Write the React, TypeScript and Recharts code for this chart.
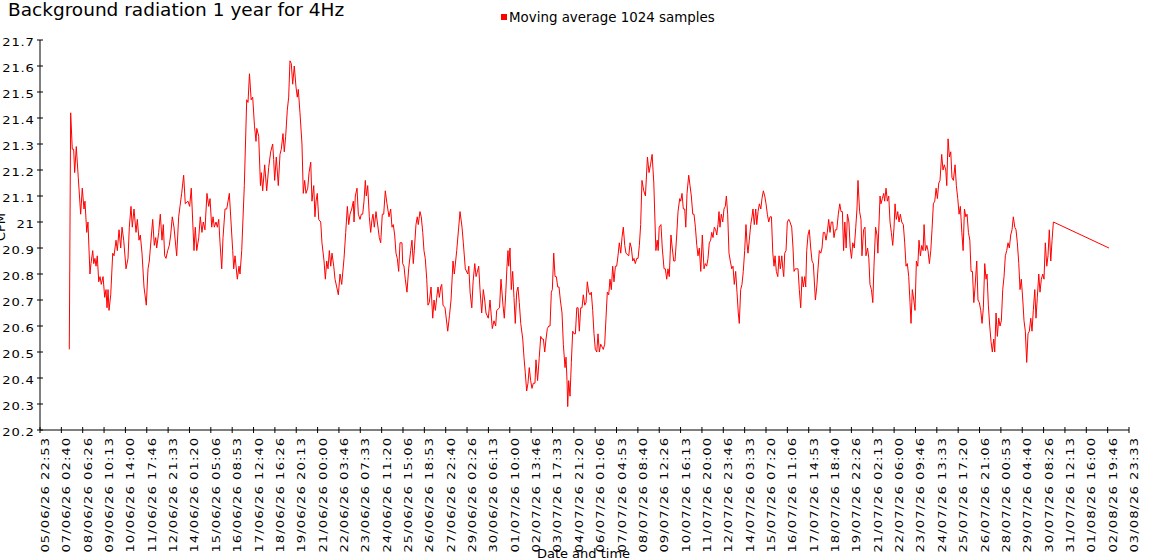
import React from "react";
import { LineChart, Line, XAxis, YAxis } from "recharts";

// Tick labels along the time axis (dd/mm/yy HH:MM), as printed in the chart
const timeTicks = [
  "05/06/26 22:53", "07/06/26 02:40", "08/06/26 06:26", "09/06/26 10:13",
  "10/06/26 14:00", "11/06/26 17:46", "12/06/26 21:33", "14/06/26 01:20",
  "15/06/26 05:06", "16/06/26 08:53", "17/06/26 12:40", "18/06/26 16:26",
  "19/06/26 20:13", "21/06/26 00:00", "22/06/26 03:46", "23/06/26 07:33",
  "24/06/26 11:20", "25/06/26 15:06", "26/06/26 18:53", "27/06/26 22:40",
  "29/06/26 02:26", "30/06/26 06:13", "01/07/26 10:00", "02/07/26 13:46",
  "03/07/26 17:33", "04/07/26 21:20", "06/07/26 01:06", "07/07/26 04:53",
  "08/07/26 08:40", "09/07/26 12:26", "10/07/26 16:13", "11/07/26 20:00",
  "12/07/26 23:46", "14/07/26 03:33", "15/07/26 07:20", "16/07/26 11:06",
  "17/07/26 14:53", "18/07/26 18:40", "19/07/26 22:26", "21/07/26 02:13",
  "22/07/26 06:00", "23/07/26 09:46", "24/07/26 13:33", "25/07/26 17:20",
  "26/07/26 21:06", "28/07/26 00:53", "29/07/26 04:40", "30/07/26 08:26",
  "31/07/26 12:13", "01/08/26 16:00", "02/08/26 19:46", "03/08/26 23:33",
];

const valueTicks = [
  20.2, 20.3, 20.4, 20.5, 20.6, 20.7, 20.8, 20.9,
  21.0, 21.1, 21.2, 21.3, 21.4, 21.5, 21.6, 21.7,
];

const seriesName = "Moving average 1024 samples";
const chartTitle = "Background radiation 1 year for 4Hz";

// [hours since 05/06/26 22:53, moving average]
const juneSamples: [number, number][] = [
  [38.1,20.51],[39.9,21.42],[42.0,21.28],[43.8,21.28],[45.1,21.19],[47.2,21.29],[49.8,21.17],[52.9,21.03],
  [55.0,21.13],[57.2,21.05],[58.5,21.08],[60.8,20.96],[62.4,21.0],[65.0,20.8],[66.3,20.84],[68.6,20.89],
  [69.9,20.84],[71.5,20.86],[72.9,20.83],[74.5,20.87],[76.4,20.77],[78.1,20.79],[79.7,20.76],[82.0,20.79],
  [84.2,20.71],[85.9,20.74],[87.2,20.67],[88.5,20.74],[89.8,20.66],[92.0,20.72],[94.6,20.88],[96.3,20.87],
  [98.9,20.93],[100.6,20.89],[102.8,20.97],[105.0,20.9],[106.7,20.98],[108.9,20.93],[111.9,20.82],[114.5,20.86],
  [116.2,20.98],[118.4,21.06],[120.1,20.98],[122.3,21.05],[124.9,20.96],[126.6,21.01],[128.8,20.93],[130.5,20.95],
  [132.7,20.88],[135.3,20.75],[138.3,20.68],[140.5,20.82],[142.2,20.85],[146.6,21.01],[148.7,20.91],[150.5,20.94],
  [151.8,20.9],[154.4,20.96],[156.5,21.03],[158.7,20.93],[160.4,20.99],[162.2,20.87],[163.9,20.86],[166.1,20.89],
  [168.2,20.91],[170.0,20.95],[172.1,21.02],[174.3,20.98],[177.8,20.87],[180.4,21.02],[182.1,21.06],[184.3,21.11],
  [186.9,21.18],[189.0,21.07],[192.5,21.08],[194.7,21.06],[196.8,21.13],[200.3,20.89],[202.0,20.98],[203.9,20.89],
  [206.5,20.94],[208.5,21.02],[210.7,20.96],[212.4,21.0],[214.6,20.97],[217.2,21.11],[219.5,21.06],[221.2,21.09],
  [223.4,20.98],[225.1,21.02],[226.8,20.98],[229.0,21.0],[230.7,20.98],[232.5,21.01],[234.2,20.92],[236.4,20.82],
  [238.1,20.94],[240.7,21.05],[242.9,21.05],[246.3,21.11],[248.5,21.0],[250.7,20.89],[252.0,20.82],[253.7,20.87],
  [256.7,20.78],[258.9,20.83],[260.2,20.8],[262.4,20.89],[265.8,21.14],[268.9,21.47],[270.6,21.46],[272.5,21.57],
  [274.7,21.47],[276.7,21.48],[279.0,21.37],[281.0,21.31],[282.0,21.36],[284.5,21.33],[286.8,21.14],[287.9,21.19],
  [289.7,21.12],[292.3,21.22],[294.9,21.12],[297.5,21.21],[300.1,21.27],[302.7,21.3],[304.0,21.24],[305.3,21.16],
  [307.4,21.25],[310.0,21.14],[312.2,21.26],[313.9,21.28],[316.1,21.34],[317.8,21.27],[319.6,21.33],[321.7,21.43],
  [323.5,21.48],[325.2,21.62],[326.9,21.61],[328.7,21.53],[330.8,21.6],[333.0,21.52],[334.7,21.48],[336.0,21.51],
  [338.2,21.42],[340.8,21.3],[342.5,21.11],[344.3,21.16],[346.0,21.11],[348.3,21.13],[350.0,21.19],[352.2,21.23],
  [353.8,21.08],[356.1,21.14],[357.7,21.02],[359.1,21.08],[360.7,21.11],[362.6,21.01],[365.2,21.0],[366.8,20.92],
  [369.5,20.85],[371.2,20.78],[373.0,20.85],[374.7,20.82],[376.4,20.89],[378.2,20.83],[379.9,20.88],[382.1,20.83],
  [383.8,20.78],[386.0,20.75],[388.1,20.72],[390.3,20.8],[392.5,20.76],[395.5,20.86],[397.7,20.96],[399.8,21.06],
  [401.6,20.99],[403.3,21.03],[405.5,21.05],[407.6,21.08],[408.5,21.0],[410.2,21.1],[412.4,21.13],[414.1,21.03],
  [416.3,21.01],[418.0,21.03],[419.8,21.03],[421.5,21.08],[423.2,21.16],[424.5,21.1],[426.3,21.14],[428.4,21.02],
  [430.2,20.96],[431.9,21.01],[433.2,21.03],[434.9,20.98],[437.1,21.04],[438.8,21.0],[441.4,20.94],[443.2,20.92],
  [445.3,21.03],[447.1,21.03],[449.2,21.12],[451.4,21.07],[454.0,21.02],[456.2,21.05],[457.9,20.98],[459.6,20.99],
  [461.4,20.95],[463.1,20.88],[464.8,20.86],[466.6,20.81],[468.3,20.92],[470.9,20.92],[471.8,20.84],[473.5,20.83],
  [475.2,20.78],[477.4,20.73],[479.6,20.82],[482.2,20.89],[483.9,20.93],[485.6,20.84],[486.9,20.89],[489.1,20.99],
  [490.8,21.02],[492.1,20.99],[494.3,21.04],[496.0,21.02],[497.9,20.96],[499.5,20.89],[501.2,20.86],[503.1,20.78],
  [504.7,20.68],[506.4,20.69],[508.7,20.75],[510.9,20.63],[512.6,20.7],[514.3,20.66],[516.1,20.71],[517.8,20.75],
  [519.5,20.71],[521.3,20.75],[522.6,20.76],[524.3,20.68],[526.9,20.67],[530.4,20.58],[532.7,20.64],[534.7,20.7],
  [537.3,20.85],[539.0,20.8],[542.1,20.89],[544.7,20.98],[546.4,21.04],[549.0,20.98],[550.7,20.92],[553.3,20.82],
  [556.5,20.8],[557.8,20.83],[559.5,20.73],[561.7,20.67],[563.4,20.77],[565.6,20.84],[567.3,20.79],[570.7,20.83],
  [572.4,20.74],[574.6,20.65],[576.7,20.74],[578.5,20.7],[580.2,20.65],[583.2,20.63],[585.4,20.7],[588.4,20.59],
  [590.6,20.62],[592.8,20.6],[594.1,20.66],[597.8,20.67],[599.7,20.78],
];

const julySamples: [number, number][] = [
  [602.3,20.68],[604.0,20.63],[605.8,20.72],[607.5,20.83],[608.8,20.89],[609.7,20.83],[611.4,20.9],[613.1,20.74],
  [614.9,20.81],[616.6,20.71],[618.3,20.61],[620.1,20.73],[621.8,20.75],[623.5,20.69],[625.4,20.61],[628.0,20.55],
  [629.6,20.48],[631.3,20.42],[633.1,20.35],[634.8,20.38],[636.5,20.44],[638.3,20.39],[640.0,20.36],[641.7,20.38],
  [643.9,20.38],[645.2,20.47],[647.3,20.39],[649.5,20.48],[651.4,20.56],[653.1,20.55],[654.8,20.55],[656.6,20.5],
  [658.3,20.55],[660.0,20.59],[661.8,20.6],[663.5,20.6],[665.2,20.73],[666.5,20.74],[668.3,20.88],[670.0,20.79],
  [671.7,20.79],[673.5,20.75],[675.2,20.75],[676.9,20.7],[679.1,20.65],[680.8,20.53],[683.0,20.44],[684.3,20.48],
  [685.6,20.39],[686.5,20.29],[687.8,20.39],[689.5,20.33],[691.2,20.46],[693.0,20.58],[694.7,20.57],[696.5,20.57],
  [698.3,20.67],[700.0,20.67],[701.6,20.58],[703.4,20.67],[705.1,20.67],[706.8,20.72],[708.6,20.68],[710.3,20.69],
  [712.0,20.77],[713.8,20.73],[715.5,20.72],[717.2,20.73],[719.0,20.66],[720.7,20.57],[722.4,20.51],[724.3,20.5],
  [725.9,20.57],[727.6,20.5],[729.4,20.53],[731.1,20.52],[732.8,20.51],[734.6,20.53],[736.3,20.63],[738.0,20.73],
  [739.8,20.72],[741.5,20.78],[743.2,20.74],[745.0,20.83],[746.7,20.77],[748.5,20.83],[750.2,20.83],[751.9,20.87],
  [753.6,20.92],[755.5,20.88],[757.1,20.94],[758.8,20.98],[760.7,20.91],[762.3,20.88],[765.9,20.87],[767.6,20.92],
  [769.3,20.9],[771.1,20.85],[772.7,20.86],[774.4,20.84],[776.3,20.86],[778.0,20.86],[779.7,20.91],[781.4,20.99],
  [783.1,21.16],[785.4,21.12],[787.6,21.1],[790.2,21.25],[792.3,21.19],[794.2,21.22],[796.3,21.26],[798.5,21.15],
  [801.2,20.89],[802.9,20.93],[804.2,20.89],[805.5,20.98],[807.8,20.99],[809.5,20.9],[811.8,20.82],[813.5,20.82],
  [815.3,20.78],[816.9,20.82],[818.6,20.79],[820.8,20.95],[822.5,20.9],[824.4,20.85],[826.1,20.85],[828.3,20.95],
  [830.0,21.04],[832.2,21.09],[833.5,21.08],[835.2,21.11],[836.9,21.05],[838.7,21.05],[840.1,20.98],[841.7,21.11],
  [843.9,21.18],[845.6,21.14],[847.3,21.1],[849.2,21.03],[850.8,21.03],[852.6,20.98],[854.4,20.91],[856.0,20.87],
  [857.7,20.9],[859.6,20.81],[861.6,20.95],[863.8,20.82],[865.5,20.84],[867.3,20.83],[869.0,20.86],[870.7,20.92],
  [872.5,20.93],[873.8,20.96],[875.5,20.94],[877.2,20.98],[879.0,20.97],[880.4,20.95],[882.0,20.99],[883.3,21.04],
  [884.6,20.98],[886.3,21.03],[888.2,21.0],[889.8,21.05],[891.5,21.06],[892.9,21.1],[894.6,21.03],[896.3,20.88],
  [898.0,20.85],[899.9,20.82],[901.5,20.83],[903.2,20.76],[905.0,20.81],[906.7,20.73],[908.4,20.65],[909.7,20.61],
  [911.5,20.74],[913.2,20.76],[914.9,20.81],[916.7,20.89],[918.4,20.99],[919.7,20.92],[921.0,20.88],[922.7,20.93],
  [924.6,20.99],[926.2,21.02],[927.5,21.05],[929.2,20.99],[931.1,21.05],[932.4,20.99],[934.1,21.04],[935.8,21.07],
  [937.7,21.05],[939.2,21.09],[941.0,21.12],[942.8,21.1],[944.5,21.07],[946.2,21.03],[948.0,21.0],[949.7,21.02],
  [951.5,21.02],[953.3,20.88],[954.9,20.83],[956.2,20.87],[957.9,20.81],[959.8,20.79],[961.4,20.87],[963.1,20.82],
  [965.0,20.87],[966.3,20.82],[967.5,20.79],[968.8,20.88],[970.5,20.89],[972.2,21.0],[974.1,21.01],[975.7,21.0],
  [977.9,20.98],[979.6,20.9],[980.9,20.81],[982.6,20.82],[984.5,20.82],[986.1,20.82],[987.8,20.74],[989.6,20.67],
  [991.3,20.79],[993.0,20.75],[994.8,20.79],[996.1,20.75],[997.4,20.89],[999.1,20.95],[1000.8,20.97],[1002.6,20.9],
  [1004.3,20.85],[1006.0,20.84],[1008.7,20.7],[1010.5,20.75],[1012.1,20.82],[1013.8,20.89],[1015.7,20.88],[1017.3,20.9],
  [1019.0,20.96],[1020.8,20.96],[1022.5,20.93],[1024.2,20.96],[1026.0,21.01],[1027.7,20.96],[1029.4,21.0],[1031.2,21.0],
  [1032.9,20.94],[1034.6,20.97],[1036.5,20.97],[1038.5,21.03],[1040.4,21.07],[1042.1,21.04],[1043.8,21.04],[1045.4,20.89],
  [1047.0,21.0],[1048.7,20.9],[1050.4,21.03],[1052.3,21.0],[1054.0,20.9],[1055.7,20.86],[1057.3,20.92],[1059.3,20.9],
  [1061.2,20.98],[1062.8,21.05],[1064.1,21.16],[1066.2,21.04],[1068.0,21.01],[1069.3,20.87],[1071.4,20.97],[1073.2,20.98],
  [1074.5,20.87],[1076.6,20.9],[1078.2,20.86],[1079.7,20.76],[1081.6,20.74],[1083.4,20.69],[1084.9,20.83],[1087.0,20.98],
  [1088.8,20.95],[1090.0,20.88],[1092.8,21.1],[1094.0,21.07],[1095.8,21.09],[1097.6,21.11],[1098.8,21.08],[1100.6,21.13],
  [1102.3,21.08],[1104.1,21.1],[1105.8,21.0],[1107.5,20.96],[1109.3,20.91],[1111.0,20.98],[1112.3,21.07],[1114.0,21.01],
  [1115.8,21.04],[1117.5,21.0],[1119.2,21.03],[1121.0,21.0],[1123.1,20.99],[1124.9,20.92],[1126.6,20.83],[1128.3,20.84],
  [1130.1,20.79],[1131.8,20.69],[1133.1,20.61],[1134.8,20.74],[1136.7,20.7],[1138.3,20.66],[1140.1,20.85],[1141.9,20.83],
  [1143.5,20.93],[1145.3,20.87],[1147.1,20.91],[1148.8,20.89],[1150.1,20.99],[1151.8,20.89],[1153.7,20.91],[1155.2,20.89],
  [1157.0,20.84],[1158.8,20.89],[1160.4,20.97],[1162.2,21.07],[1164.0,21.08],[1165.7,21.13],[1167.4,21.09],[1169.2,21.15],
  [1170.8,21.16],[1173.0,21.26],[1174.7,21.2],[1176.4,21.22],[1178.3,21.2],[1179.6,21.14],[1181.3,21.32],[1183.0,21.25],
  [1184.8,21.27],[1186.4,21.17],[1188.2,21.16],[1190.4,21.22],[1192.1,21.14],[1193.9,21.09],[1195.6,21.03],[1197.3,21.06],
  [1199.2,20.96],[1200.9,20.89],[1202.6,21.05],[1204.4,21.02],[1206.0,21.03],[1207.8,20.96],[1209.6,20.93],[1211.2,20.81],
  [1213.0,20.81],[1214.8,20.69],[1216.4,20.75],[1218.6,20.85],[1220.2,20.7],[1222.0,20.69],[1223.8,20.66],[1225.5,20.61],
  [1227.2,20.67],[1229.0,20.84],[1230.7,20.78],[1232.0,20.8],[1233.7,20.68],[1235.5,20.6],[1237.2,20.54],[1238.9,20.5],
  [1240.7,20.55],[1242.0,20.5],[1243.7,20.65],[1245.4,20.56],[1247.2,20.63],[1248.9,20.6],[1250.6,20.62],[1252.4,20.74],
  [1254.1,20.79],[1255.8,20.87],[1257.6,20.89],[1259.3,20.92],[1261.0,20.9],[1262.8,20.95],[1264.5,20.97],[1266.2,21.02],
  [1268.1,20.98],[1269.7,20.97],[1271.4,20.92],[1273.3,20.84],[1274.9,20.74],[1276.6,20.78],[1278.5,20.7],[1280.1,20.62],
  [1281.8,20.58],[1283.6,20.46],[1285.3,20.57],[1287.0,20.58],[1288.9,20.63],[1290.5,20.58],[1292.2,20.66],[1294.1,20.74],
  [1295.7,20.63],[1297.4,20.71],[1299.3,20.8],[1300.9,20.73],[1302.6,20.78],[1304.5,20.8],[1306.1,20.78],[1307.8,20.92],
  [1309.7,20.83],[1311.3,20.87],[1313.0,20.97],[1314.9,20.85],[1316.6,20.93],[1318.3,21.0],
];

const augustSamples: [number, number][] = [[1390.6, 20.9]];

const FONT = "'DejaVu Sans', Verdana, sans-serif";
const RED = "#ff0000";

// "dd/mm/yy HH:MM" -> hours since the first tick label
function parseStamp(s: string) {
  const [d, t] = s.split(" ");
  const [dd, mm, yy] = d.split("/").map(Number);
  const [hh, mi] = t.split(":").map(Number);
  return Date.UTC(2000 + yy, mm - 1, dd, hh, mi) / 3600000;
}
const origin = parseStamp(timeTicks[0]);
const tickHours = timeTicks.map((s) => parseStamp(s) - origin);

const data = [...juneSamples, ...julySamples, ...augustSamples].map(([h, v]) => ({ h, v }));

// the axis labels in the original are drawn with wide glyphs
const STRETCH = 1.25;

const XTick = (props: any) => {
  const { x, y, index } = props;
  return (
    <g>
      <line x1={x} x2={x} y1={y - 3} y2={y + 3} stroke="#000" />
      <text
        transform={`translate(${x + 9},${y + 6.8}) rotate(-90) scale(${STRETCH},1)`}
        textAnchor="end"
        fontFamily={FONT}
        fontSize={10.5}
        letterSpacing={0.85}
        fill="#000"
      >
        {timeTicks[index]}
      </text>
    </g>
  );
};

const YTick = (props: any) => {
  const { x, y, payload } = props;
  return (
    <g>
      <line x1={x - 3} x2={x + 3} y1={y} y2={y} stroke="#000" />
      <text
        transform={`translate(${x - 5.2},${y + 5.7}) scale(${STRETCH},1)`}
        textAnchor="end"
        fontFamily={FONT}
        fontSize={10.5}
        letterSpacing={0.67}
        fill="#000"
      >
        {String(Number(payload.value.toFixed(1)))}
      </text>
    </g>
  );
};

const XTitle = (props: any) => {
  const vb = props.viewBox || {};
  return (
    <text
      x={vb.x + vb.width / 2 - 1}
      y={vb.y + vb.height - 2}
      textAnchor="middle"
      fontFamily={FONT}
      fontSize={13}
      fill="#000"
    >
      Date and time
    </text>
  );
};

const YTitle = (props: any) => {
  const vb = props.viewBox || {};
  return (
    <text
      transform={`translate(5,${vb.y + vb.height / 2 - 8}) rotate(-90)`}
      textAnchor="middle"
      fontFamily={FONT}
      fontSize={13}
      fill="#000"
    >
      CPM
    </text>
  );
};

export default function App() {
  return (
    <div style={{ position: "absolute", left: 0, top: 0, width: 1150, height: 560, background: "#fff" }}>
      <div
        style={{
          position: "absolute", left: 8, top: 0, fontFamily: FONT, fontSize: 18.5,
          lineHeight: "20px", color: "#000", whiteSpace: "nowrap",
        }}
      >
        {chartTitle}
      </div>
      <div style={{ position: "absolute", left: 501, top: 10, height: 16, fontFamily: FONT, fontSize: 13.4, lineHeight: "16px", whiteSpace: "nowrap" }}>
        <span style={{ position: "absolute", left: 0, top: 4, width: 6, height: 6, background: RED }} />
        <span style={{ position: "absolute", left: 8, top: 0, color: "#000" }}>{seriesName}</span>
      </div>
      <LineChart width={1150} height={560} data={data} margin={{ top: 40, right: 21, bottom: 0, left: 0 }}>
        <XAxis
          dataKey="h"
          type="number"
          domain={[0, tickHours[tickHours.length - 1]]}
          ticks={tickHours}
          interval={0}
          height={130}
          tickSize={0}
          tickMargin={0}
          tickLine={false}
          axisLine={{ stroke: "#000" }}
          tick={<XTick />}
          label={<XTitle />}
          allowDataOverflow
        />
        <YAxis
          type="number"
          domain={[20.2, 21.7]}
          ticks={valueTicks}
          interval={0}
          width={40}
          tickSize={0}
          tickMargin={0}
          tickLine={false}
          axisLine={{ stroke: "#000" }}
          tick={<YTick />}
          label={<YTitle />}
          allowDataOverflow
        />
        <Line
          type="linear"
          dataKey="v"
          name={seriesName}
          stroke={RED}
          strokeWidth={1}
          dot={false}
          activeDot={false}
          isAnimationActive={false}
        />
      </LineChart>
    </div>
  );
}
